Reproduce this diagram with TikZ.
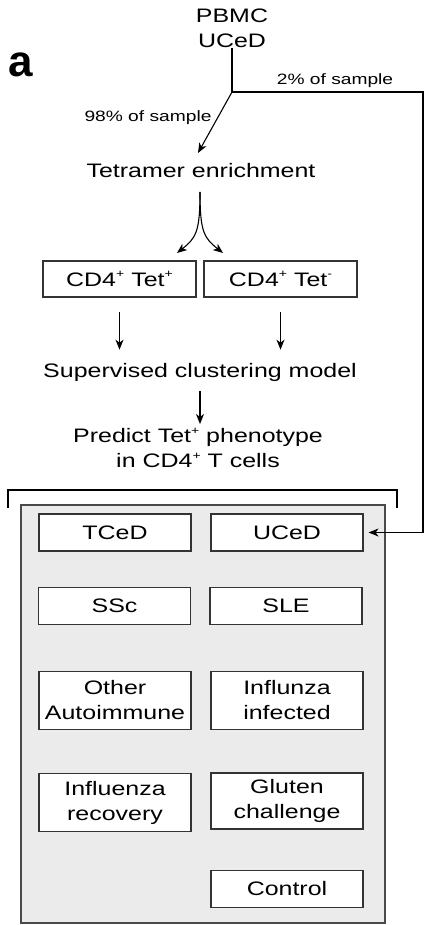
\documentclass[tikz,border=0pt]{standalone}
\usepackage{fontspec}
\setmainfont{Liberation Sans}[FakeStretch=1.28]
\newfontfamily\labelfont{Liberation Sans}
\usetikzlibrary{arrows.meta}
\definecolor{panelgray}{HTML}{EBEBEB}
\definecolor{panelline}{HTML}{4A4A4A}
\definecolor{boxline}{HTML}{333333}
% small raised sign used for the cell markers
\newcommand{\marksign}[1]{\raisebox{0.42em}{\fontsize{11}{11}\selectfont #1}}
\tikzset{
  big/.style={font=\fontsize{19.5}{25}\selectfont, inner sep=0pt, align=center},
  small/.style={font=\fontsize{15}{18}\selectfont, inner sep=0pt},
  groupbox/.style={draw=boxline, fill=white, line width=1.1pt, minimum width=152pt,
    inner sep=0pt, align=center, font=\fontsize{19.5}{25}\selectfont},
  onebox/.style={groupbox, minimum height=37pt},
  twobox/.style={groupbox, minimum height=58pt},
  flow/.style={line width=1.1pt, -{Stealth[length=10pt,width=8pt,inset=3pt]}},
  plain/.style={line width=1.1pt}
}
\begin{document}
\begin{tikzpicture}[x=1pt,y=-1pt]
\useasboundingbox (0,0) rectangle (425,925);

% panel letter
\node[inner sep=0pt, anchor=base, font=\labelfont\bfseries\fontsize{44}{44}\selectfont] (lab) at (21,77) {a};

% source sample and split
\node[big, anchor=north] (pbmc) at (232,9) {PBMC\\UCeD};
\coordinate (fork) at (232,92);
\coordinate (corner) at (423,92);
\node[small, anchor=base] (two) at (335,85) {2\% of sample};
\node[small, anchor=base] (ninety) at (148,122) {98\% of sample};

% enrichment and split into populations
\node[big, anchor=base] (tetr) at (201,178) {Tetramer enrichment};
\coordinate (split) at (200,192);
\coordinate (tetin) at (198,153);

\node[onebox, minimum width=153pt, minimum height=36pt] (tetp) at (119.5,279) {CD4\marksign{+} Tet\marksign{+}};
\node[onebox, minimum width=153pt, minimum height=36pt] (tetn) at (280.5,279) {CD4\marksign{+} Tet\marksign{-}};

\node[big, anchor=base] (model) at (200,377) {Supervised clustering model};
\node[big, anchor=north] (pred) at (198,428) {Predict Tet\marksign{+} phenotype\\in CD4\marksign{+} T cells};

% cohort panel
\draw[fill=panelgray, draw=panelline, line width=1.1pt] (21,505) rectangle (385,923);
\draw[plain] (8,508) |- (397,490) -- (397,508);

\node[onebox] (tced) at (115,532.5) {TCeD};
\node[onebox] (uced) at (287,532.5) {UCeD};
\node[onebox] (ssc) at (114.5,606) {SSc};
\node[onebox] (sle) at (286,606) {SLE};
\node[twobox] (other) at (115,700.5) {Other\\Autoimmune};
\node[twobox] (flu) at (287,700.5) {Influnza\\infected};
\node[twobox] (rec) at (115,802.5) {Influenza\\recovery};
\node[twobox, minimum height=56pt] (glu) at (287,801) {Gluten\\challenge};
\node[onebox] (ctrl) at (287,889) {Control};

% connectors
\draw[plain] (pbmc.south) -- (fork);
\draw[flow] (fork) -- (corner) |- ([xshift=5pt]uced.east);
\draw[flow] (fork) -- (tetin);
\draw[flow] (split) .. controls (200,232) and (196,238) .. (177,253);
\draw[flow] (split) .. controls (200,232) and (204,238) .. (223,253);
\draw[flow, shorten <=14pt, shorten >=13pt] (tetp.south) -- (tetp.south |- model.north);
\draw[flow, shorten <=14pt, shorten >=13pt] (tetn.south) -- (tetn.south |- model.north);
\draw[flow, shorten <=10pt, shorten >=4pt] (model.south -| 200,0) -- (pred.north -| 200,0);
\end{tikzpicture}
\end{document}
